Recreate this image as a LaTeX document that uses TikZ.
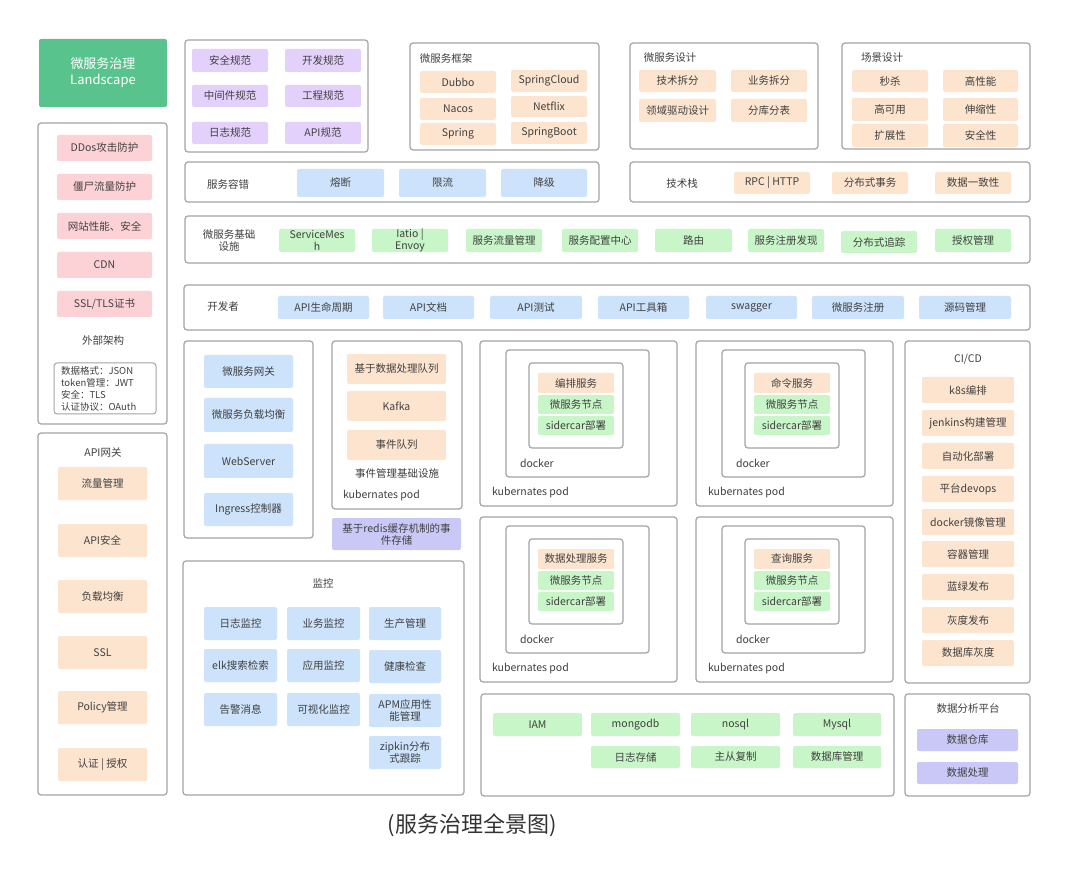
\documentclass[tikz,border=0pt]{standalone}
\usepackage{fontspec}
\setmainfont{Noto Sans CJK SC}
\definecolor{framegray}{HTML}{A4A4A4}
\definecolor{txt}{HTML}{404040}
\definecolor{corange}{HTML}{FDE4CF}
\definecolor{cgreen}{HTML}{C8F6C8}
\definecolor{cblue}{HTML}{CDE3FB}
\definecolor{cpink}{HTML}{FDD2D6}
\definecolor{cpurple}{HTML}{E3D0FB}
\definecolor{clav}{HTML}{C9C8F7}
\definecolor{cland}{HTML}{58C38C}
\tikzset{
  frame/.style={draw=framegray, line width=1.2pt, rounded corners=3pt, inner sep=0pt, outer sep=0pt},
  thinframe/.style={draw=framegray, line width=1pt, rounded corners=3pt, inner sep=0pt, outer sep=0pt},
  cb/.style={rounded corners=2pt, inner sep=0pt, outer sep=0pt, align=center, text=txt},
  org/.style={cb, fill=corange},
  grn/.style={cb, fill=cgreen},
  blu/.style={cb, fill=cblue},
  pnk/.style={cb, fill=cpink},
  pur/.style={cb, fill=cpurple},
  lav/.style={cb, fill=clav},
  landbox/.style={cb, fill=cland, text=white, font=\fontsize{13}{16}\selectfont},
  lbl/.style={text=txt, inner sep=0pt, outer sep=0pt, align=center},
  lblw/.style={lbl, anchor=west, align=left},
}
\newcommand{\bx}[7]{\node[#6, minimum width={(#4-#2)*1pt}, minimum height={(#5-#3)*1pt}] (#1) at ({(#2+#4)/2},{(#3+#5)/2}) {#7};}
\newcommand{\podbox}[4]{%
  \begin{scope}[shift={(#2,#3)}]
    \bx{#1k}{0}{0}{197}{165}{frame}{}
    \bx{#1d}{26}{9}{169}{136}{frame}{}
    \bx{#1i}{49}{22}{143}{107}{frame}{}
    \bx{#1s}{58}{32}{134}{52}{org}{#4}
    \bx{#1n}{58}{54}{134}{73}{grn}{微服务节点}
    \bx{#1c}{58}{75}{134}{94}{grn}{sidercar部署}
    \node[lblw] (#1dl) at (40,122) {docker};
    \node[lblw] (#1kl) at (12,152) {kubernates pod};
  \end{scope}}
\begin{document}
\begin{tikzpicture}[x=1pt, y=-1pt, font=\fontsize{10.5}{12}\selectfont]
\useasboundingbox[fill=white] (0,0) rectangle (1080,893);

% ---------------- left column
\bx{land}{39}{39}{167}{107}{landbox}{微服务治理\\Landscape}
\bx{ext}{38}{123}{167}{424}{frame}{}
\bx{ddos}{57}{135}{152}{161}{pnk}{DDos攻击防护}
\bx{zomb}{57}{174}{152}{200}{pnk}{僵尸流量防护}
\bx{webp}{57}{213}{152}{239}{pnk}{网站性能、安全}
\bx{cdn}{57}{252}{152}{278}{pnk}{CDN}
\bx{ssl}{57}{291}{152}{317}{pnk}{SSL/TLS证书}
\node[lbl] (extt) at (103,340) {外部架构};
\bx{fmt}{54}{363}{156}{414}{thinframe}{}
\node[lblw, font=\fontsize{9.5}{12}\selectfont] (fmtt) at (61,388.5) {数据格式：JSON\\token管理：JWT\\安全：TLS\\认证协议：OAuth};

\bx{gw}{38}{433}{167}{795}{frame}{}
\node[lbl] (gwt) at (103,453) {API网关};
\bx{gw1}{58}{467}{147}{500}{org}{流量管理}
\bx{gw2}{58}{524}{147}{557}{org}{API安全}
\bx{gw3}{58}{580}{147}{613}{org}{负载均衡}
\bx{gw4}{58}{636}{147}{669}{org}{SSL}
\bx{gw5}{58}{691}{147}{724}{org}{Policy管理}
\bx{gw6}{58}{748}{147}{781}{org}{认证 | 授权}

% ---------------- top row
\bx{spec}{185}{40}{368}{152}{frame}{}
\bx{sp1}{192}{49}{268}{72}{pur}{安全规范}
\bx{sp2}{285}{49}{361}{72}{pur}{开发规范}
\bx{sp3}{192}{85}{268}{107}{pur}{中间件规范}
\bx{sp4}{285}{85}{361}{107}{pur}{工程规范}
\bx{sp5}{192}{122}{268}{144}{pur}{日志规范}
\bx{sp6}{285}{122}{361}{144}{pur}{API规范}

\bx{fw}{410}{43}{599}{150}{frame}{}
\node[lbl] (fwt) at (446,59) {微服务框架};
\bx{fw1}{420}{71}{496}{93}{org}{Dubbo}
\bx{fw2}{420}{98}{496}{120}{org}{Nacos}
\bx{fw3}{420}{123}{496}{145}{org}{Spring}
\bx{fw4}{511}{70}{587}{92}{org}{SpringCloud}
\bx{fw5}{511}{96}{587}{117}{org}{Netflix}
\bx{fw6}{511}{122}{587}{144}{org}{SpringBoot}

\bx{ds}{630}{43}{818}{149}{frame}{}
\node[lbl] (dst) at (670,58) {微服务设计};
\bx{ds1}{639}{70}{716}{92}{org}{技术拆分}
\bx{ds2}{731}{70}{807}{92}{org}{业务拆分}
\bx{ds3}{639}{99}{716}{122}{org}{领域驱动设计}
\bx{ds4}{731}{99}{807}{122}{org}{分库分表}

\bx{sc}{842}{43}{1030}{149}{frame}{}
\node[lbl] (sct) at (882,58) {场景设计};
\bx{sc1}{852}{70}{928}{92}{org}{秒杀}
\bx{sc2}{943}{70}{1018}{92}{org}{高性能}
\bx{sc3}{852}{98}{928}{121}{org}{高可用}
\bx{sc4}{943}{98}{1018}{121}{org}{伸缩性}
\bx{sc5}{852}{124}{928}{147}{org}{扩展性}
\bx{sc6}{943}{124}{1018}{147}{org}{安全性}

% ---------------- rows
\bx{ft}{185}{162}{599}{202}{frame}{}
\node[lbl] (ftt) at (228,184) {服务容错};
\bx{ft1}{297}{169}{384}{197}{blu}{熔断}
\bx{ft2}{399}{169}{486}{197}{blu}{限流}
\bx{ft3}{501}{169}{587}{197}{blu}{降级}

\bx{ts}{630}{162}{1030}{202}{frame}{}
\node[lbl] (tst) at (682,184) {技术栈};
\bx{ts1}{734}{172}{810}{194}{org}{RPC | HTTP}
\bx{ts2}{832}{172}{908}{194}{org}{分布式事务}
\bx{ts3}{935}{172}{1011}{194}{org}{数据一致性}

\bx{inf}{185}{216}{1030}{263}{frame}{}
\node[lbl] (inft) at (229,241) {微服务基础\\设施};
\bx{in1}{279}{229}{355}{252}{grn}{ServiceMes\\h}
\bx{in2}{372}{229}{448}{252}{grn}{Iatio |\\Envoy}
\bx{in3}{466}{229}{542}{252}{grn}{服务流量管理}
\bx{in4}{562}{229}{638}{252}{grn}{服务配置中心}
\bx{in5}{655}{229}{732}{252}{grn}{路由}
\bx{in6}{748}{229}{824}{252}{grn}{服务注册发现}
\bx{in7}{841}{231}{917}{253}{grn}{分布式追踪}
\bx{in8}{935}{229}{1011}{252}{grn}{授权管理}

\bx{dev}{184}{285}{1030}{330}{frame}{}
\node[lbl] (devt) at (223,307) {开发者};
\bx{dv1}{278}{296}{369}{319}{blu}{API生命周期}
\bx{dv2}{383}{296}{474}{319}{blu}{API文档}
\bx{dv3}{490}{296}{582}{319}{blu}{API测试}
\bx{dv4}{598}{296}{689}{319}{blu}{API工具箱}
\bx{dv5}{706}{296}{797}{319}{blu}{swagger}
\bx{dv6}{812}{296}{904}{319}{blu}{微服务注册}
\bx{dv7}{919}{296}{1011}{319}{blu}{源码管理}

% ---------------- middle
\bx{mg}{184}{341}{313}{538}{frame}{}
\bx{mg1}{204}{355}{293}{388}{blu}{微服务网关}
\bx{mg2}{204}{398}{293}{432}{blu}{微服务负载均衡}
\bx{mg3}{204}{444}{293}{478}{blu}{WebServer}
\bx{mg4}{204}{493}{293}{526}{blu}{Ingress控制器}

\bx{ev}{332}{341}{462}{509}{frame}{}
\bx{ev1}{347}{354}{446}{384}{org}{基于数据处理队列}
\bx{ev2}{347}{391}{446}{421}{org}{Kafka}
\bx{ev3}{347}{430}{446}{460}{org}{事件队列}
\node[lbl] (evt) at (397,474) {事件管理基础设施};
\node[lblw] (evk) at (343,496) {kubernates pod};
\bx{redis}{332}{518}{461}{550}{lav}{基于redis缓存机制的事\\件存储}

\podbox{pa}{480}{341}{编排服务}
\podbox{pb}{696}{341}{命令服务}
\podbox{pc}{480}{517}{数据处理服务}
\podbox{pd}{696}{517}{查询服务}

\bx{ci}{905}{341}{1030}{683}{frame}{}
\node[lbl] (cit) at (968,359) {CI/CD};
\bx{ci1}{922}{377}{1014}{403}{org}{k8s编排}
\bx{ci2}{922}{410}{1014}{436}{org}{jenkins构建管理}
\bx{ci3}{922}{443}{1014}{469}{org}{自动化部署}
\bx{ci4}{922}{476}{1014}{502}{org}{平台devops}
\bx{ci5}{922}{509}{1014}{535}{org}{docker镜像管理}
\bx{ci6}{922}{541}{1014}{567}{org}{容器管理}
\bx{ci7}{922}{574}{1014}{600}{org}{蓝绿发布}
\bx{ci8}{922}{607}{1014}{633}{org}{灰度发布}
\bx{ci9}{922}{640}{1014}{666}{org}{数据库灰度}

% ---------------- bottom
\bx{mon}{183}{561}{464}{795}{frame}{}
\node[lbl] (mont) at (323,583) {监控};
\bx{mo1}{204}{607}{277}{640}{blu}{日志监控}
\bx{mo2}{287}{607}{360}{640}{blu}{业务监控}
\bx{mo3}{369}{607}{441}{640}{blu}{生产管理}
\bx{mo4}{204}{649}{277}{682}{blu}{elk搜索检索}
\bx{mo5}{287}{649}{360}{682}{blu}{应用监控}
\bx{mo6}{369}{650}{441}{683}{blu}{健康检查}
\bx{mo7}{204}{693}{277}{726}{blu}{告警消息}
\bx{mo8}{287}{693}{360}{726}{blu}{可视化监控}
\bx{mo9}{369}{694}{441}{727}{blu}{APM应用性\\能管理}
\bx{mo10}{369}{736}{441}{769}{blu}{zipkin分布\\式跟踪}

\bx{db}{481}{694}{894}{796}{frame}{}
\bx{db1}{493}{713}{582}{736}{grn}{IAM}
\bx{db2}{591}{713}{680}{736}{grn}{mongodb}
\bx{db3}{691}{713}{780}{736}{grn}{nosql}
\bx{db4}{793}{713}{881}{736}{grn}{Mysql}
\bx{db5}{591}{746}{680}{768}{grn}{日志存储}
\bx{db6}{691}{746}{780}{768}{grn}{主从复制}
\bx{db7}{793}{746}{881}{768}{grn}{数据库管理}

\bx{da}{905}{694}{1030}{796}{frame}{}
\node[lbl] (dat) at (968,709) {数据分析平台};
\bx{da1}{917}{729}{1018}{751}{lav}{数据仓库}
\bx{da2}{917}{762}{1018}{784}{lav}{数据处理}

\node[lbl, text=black!80, font=\fontsize{22}{26}\selectfont] (cap) at (472,825) {(服务治理全景图)};
\end{tikzpicture}
\end{document}
